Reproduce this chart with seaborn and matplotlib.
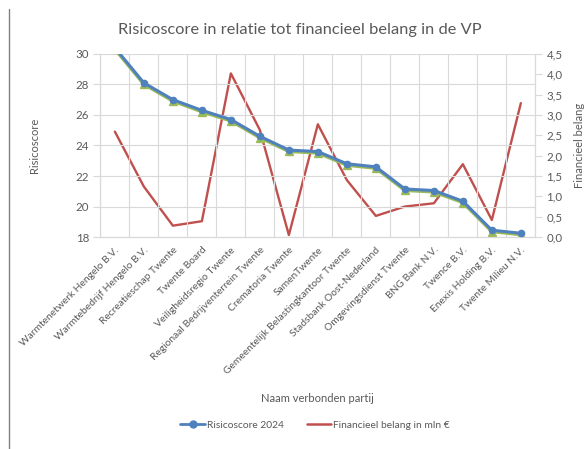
import numpy as np
import pandas as pd
import matplotlib
matplotlib.use("Agg")
import matplotlib.pyplot as plt
import matplotlib.transforms as mtransforms
from matplotlib.lines import Line2D
import seaborn as sns

partijen = [
    "Warmtenetwerk Hengelo B.V.", "Warmtebedrijf Hengelo B.V.", "Recreatieschap Twente",
    "Twente Board", "Veiligheidsregio Twente", "Regionaal Bedrijventerrein Twente",
    "Crematoria Twente", "SamenTwente", "Gemeentelijk Belastingkantoor Twente",
    "Stadsbank Oost-Nederland", "Omgevingsdienst Twente", "BNG Bank N.V.",
    "Twence B.V.", "Enexis Holding B.V.", "Twente Milieu N.V.",
]
risicoscore = [30.4, 28.1, 27.0, 26.3, 25.7, 24.6, 23.7, 23.6, 22.8, 22.6, 21.15, 21.05, 20.35, 18.45, 18.25]
fin_belang = [2.59, 1.24, 0.28, 0.39, 4.02, 2.63, 0.05, 2.77, 1.40, 0.52, 0.75, 0.83, 1.79, 0.42, 3.29]

df = pd.DataFrame({"partij": partijen, "risico": risicoscore, "belang": fin_belang})
df["pos"] = np.arange(len(df))

sns.set_style("white")
plt.rcParams["font.family"] = ["Lato", "DejaVu Sans"]
grey = "#595959"
gridc = "#d9d9d9"
blue = "#4f81bd"
red = "#c0504d"
green = "#9bbb59"

fig = plt.figure(figsize=(5.87, 4.49), dpi=100)
ax = fig.add_axes([0.171, 0.472, 0.741, 0.408])
ax2 = ax.twinx()

# shadow series behind the blue line
shift = mtransforms.offset_copy(ax.transData, fig=fig, x=0, y=-1.0, units="points")
ax.plot(df["pos"], df["risico"], color=green, lw=2.4, marker="^", ms=5.5, transform=shift, zorder=2)
sns.lineplot(data=df, x="pos", y="risico", ax=ax, color=blue, lw=2.2, marker="o", ms=5.5,
             markeredgewidth=0, sort=False, zorder=3)
sns.lineplot(data=df, x="pos", y="belang", ax=ax2, color=red, lw=1.7, sort=False)

ax.set_zorder(ax2.get_zorder() + 1)
ax.patch.set_visible(False)

ax.set_xlim(-0.5, len(df) - 0.5)
ax.set_ylim(18, 30)
ax.set_yticks(np.arange(18, 31, 2))
ax2.set_ylim(0, 4.5)
ax2.set_yticks(np.arange(0, 4.51, 0.5))
ax2.set_yticklabels([f"{v:.1f}".replace(".", ",") for v in np.arange(0, 4.51, 0.5)])

ax.set_xticks(df["pos"])
ax.set_xticklabels(partijen, rotation=45, ha="right", rotation_mode="anchor")
ax.set_xticks(np.arange(-0.5, len(df), 1), minor=True)
ax.tick_params(axis="x", which="major", length=0, pad=6, labelsize=7.4, labelcolor=grey)
ax.tick_params(axis="x", which="minor", length=4, color=gridc, direction="out")
ax.tick_params(axis="y", length=5, color=gridc, labelsize=8.3, labelcolor=grey, pad=3)
ax2.tick_params(axis="y", length=5, color=gridc, labelsize=8.3, labelcolor=grey, pad=3)
ax.grid(True, which="minor", axis="x", color=gridc, lw=0.8)
ax.grid(True, which="major", axis="y", color=gridc, lw=0.8)

for a in (ax, ax2):
    for s in a.spines.values():
        s.set_color(gridc)
    a.spines["top"].set_visible(False)

ax.set_xlabel("Naam verbonden partij", color=grey, fontsize=8)
ax.xaxis.set_label_coords(0.5, -0.85)
ax.set_ylabel("Risicoscore", color=grey, fontsize=8, labelpad=26)
ax2.set_ylabel("Financieel belang", color=grey, fontsize=8, labelpad=8)

fig.text(0.511, 0.933, "Risicoscore in relatie tot financieel belang in de VP",
         ha="center", va="center", fontsize=11.8, color=grey)

handles = [
    Line2D([], [], color=blue, lw=2, marker="o", ms=5),
    Line2D([], [], color=red, lw=1.8),
]
fig.legend(handles, ["Risicoscore 2024", "Financieel belang in mln €"], loc="center",
           bbox_to_anchor=(0.537, 0.053), ncol=2, frameon=False, fontsize=7.4,
           labelcolor=grey, handlelength=2.4, columnspacing=2.2, handletextpad=0.2)

fig.add_artist(Line2D([9 / 587, 9 / 587], [0, 1 - 9 / 449], transform=fig.transFigure,
                      color="#808080", lw=1))

fig.savefig("out.png", dpi=100)
